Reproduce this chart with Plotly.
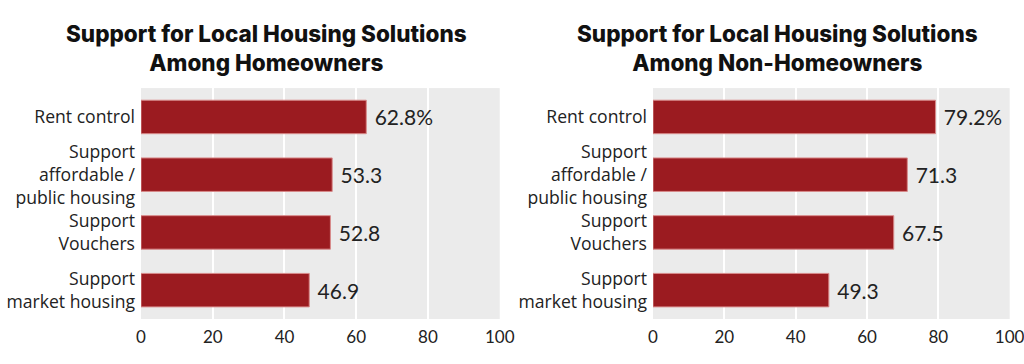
import plotly.graph_objects as go
from plotly.subplots import make_subplots

categories = ["Rent control", "Support<br>affordable /<br>public housing", "Support<br>Vouchers", "Support<br>market housing"]
homeowners = [62.8, 53.3, 52.8, 46.9]
non_homeowners = [79.2, 71.3, 67.5, 49.3]
homeowner_labels = ["62.8%", "53.3", "52.8", "46.9"]
non_homeowner_labels = ["79.2%", "71.3", "67.5", "49.3"]
x_ticks = [0, 20, 40, 60, 80, 100]
titles = ["Support for Local Housing Solutions<br>Among Homeowners",
          "Support for Local Housing Solutions<br>Among Non-Homeowners"]

bar_color = "#9b1b20"
fig = make_subplots(rows=1, cols=2)

for i, (vals, labs) in enumerate([(homeowners, homeowner_labels), (non_homeowners, non_homeowner_labels)]):
    fig.add_trace(go.Bar(
        x=vals, y=categories, orientation="h",
        marker=dict(color=bar_color, line=dict(color="#d88a8a", width=1)),
        text=labs, texttemplate=" %{text}", textposition="outside", cliponaxis=False,
        textfont=dict(size=21, color="#222222", family="Lato"),
        width=0.58, showlegend=False,
    ), row=1, col=i + 1)

fig.update_xaxes(range=[0, 100], tickvals=x_ticks, showgrid=True, gridcolor="white", gridwidth=1.5,
                 zeroline=False, tickfont=dict(size=17, color="#222222", family="Lato"), ticks="",
                 fixedrange=True, automargin=False, ticklabelstandoff=6, ticklabeloverflow="allow")
fig.update_yaxes(categoryorder="array", categoryarray=categories, autorange="reversed",
                 tickfont=dict(size=17.6, color="#222222", family="Open Sans"), ticks="",
                 ticklabelstandoff=5, automargin=False)

fig.update_layout(
    width=1024, height=364,
    margin=dict(l=0, r=0, t=0, b=0),
    paper_bgcolor="white", plot_bgcolor="#ebebeb",
    xaxis=dict(domain=[0.1377, 0.488]),
    xaxis2=dict(domain=[0.6377, 0.986]),
    yaxis=dict(domain=[0.1236, 0.758]),
    yaxis2=dict(domain=[0.1236, 0.758]),
    bargap=0.42,
)

for cx, t in zip([0.26, 0.759], titles):
    fig.add_annotation(text=t, x=cx, y=0.95, xref="paper", yref="paper",
                       xanchor="center", yanchor="top", showarrow=False,
                       font=dict(size=22.5, color="#111111", family="Inter", weight=800))

fig.write_html("out.html", config={"displayModeBar": False},
               post_script="document.body.style.margin='0';")
